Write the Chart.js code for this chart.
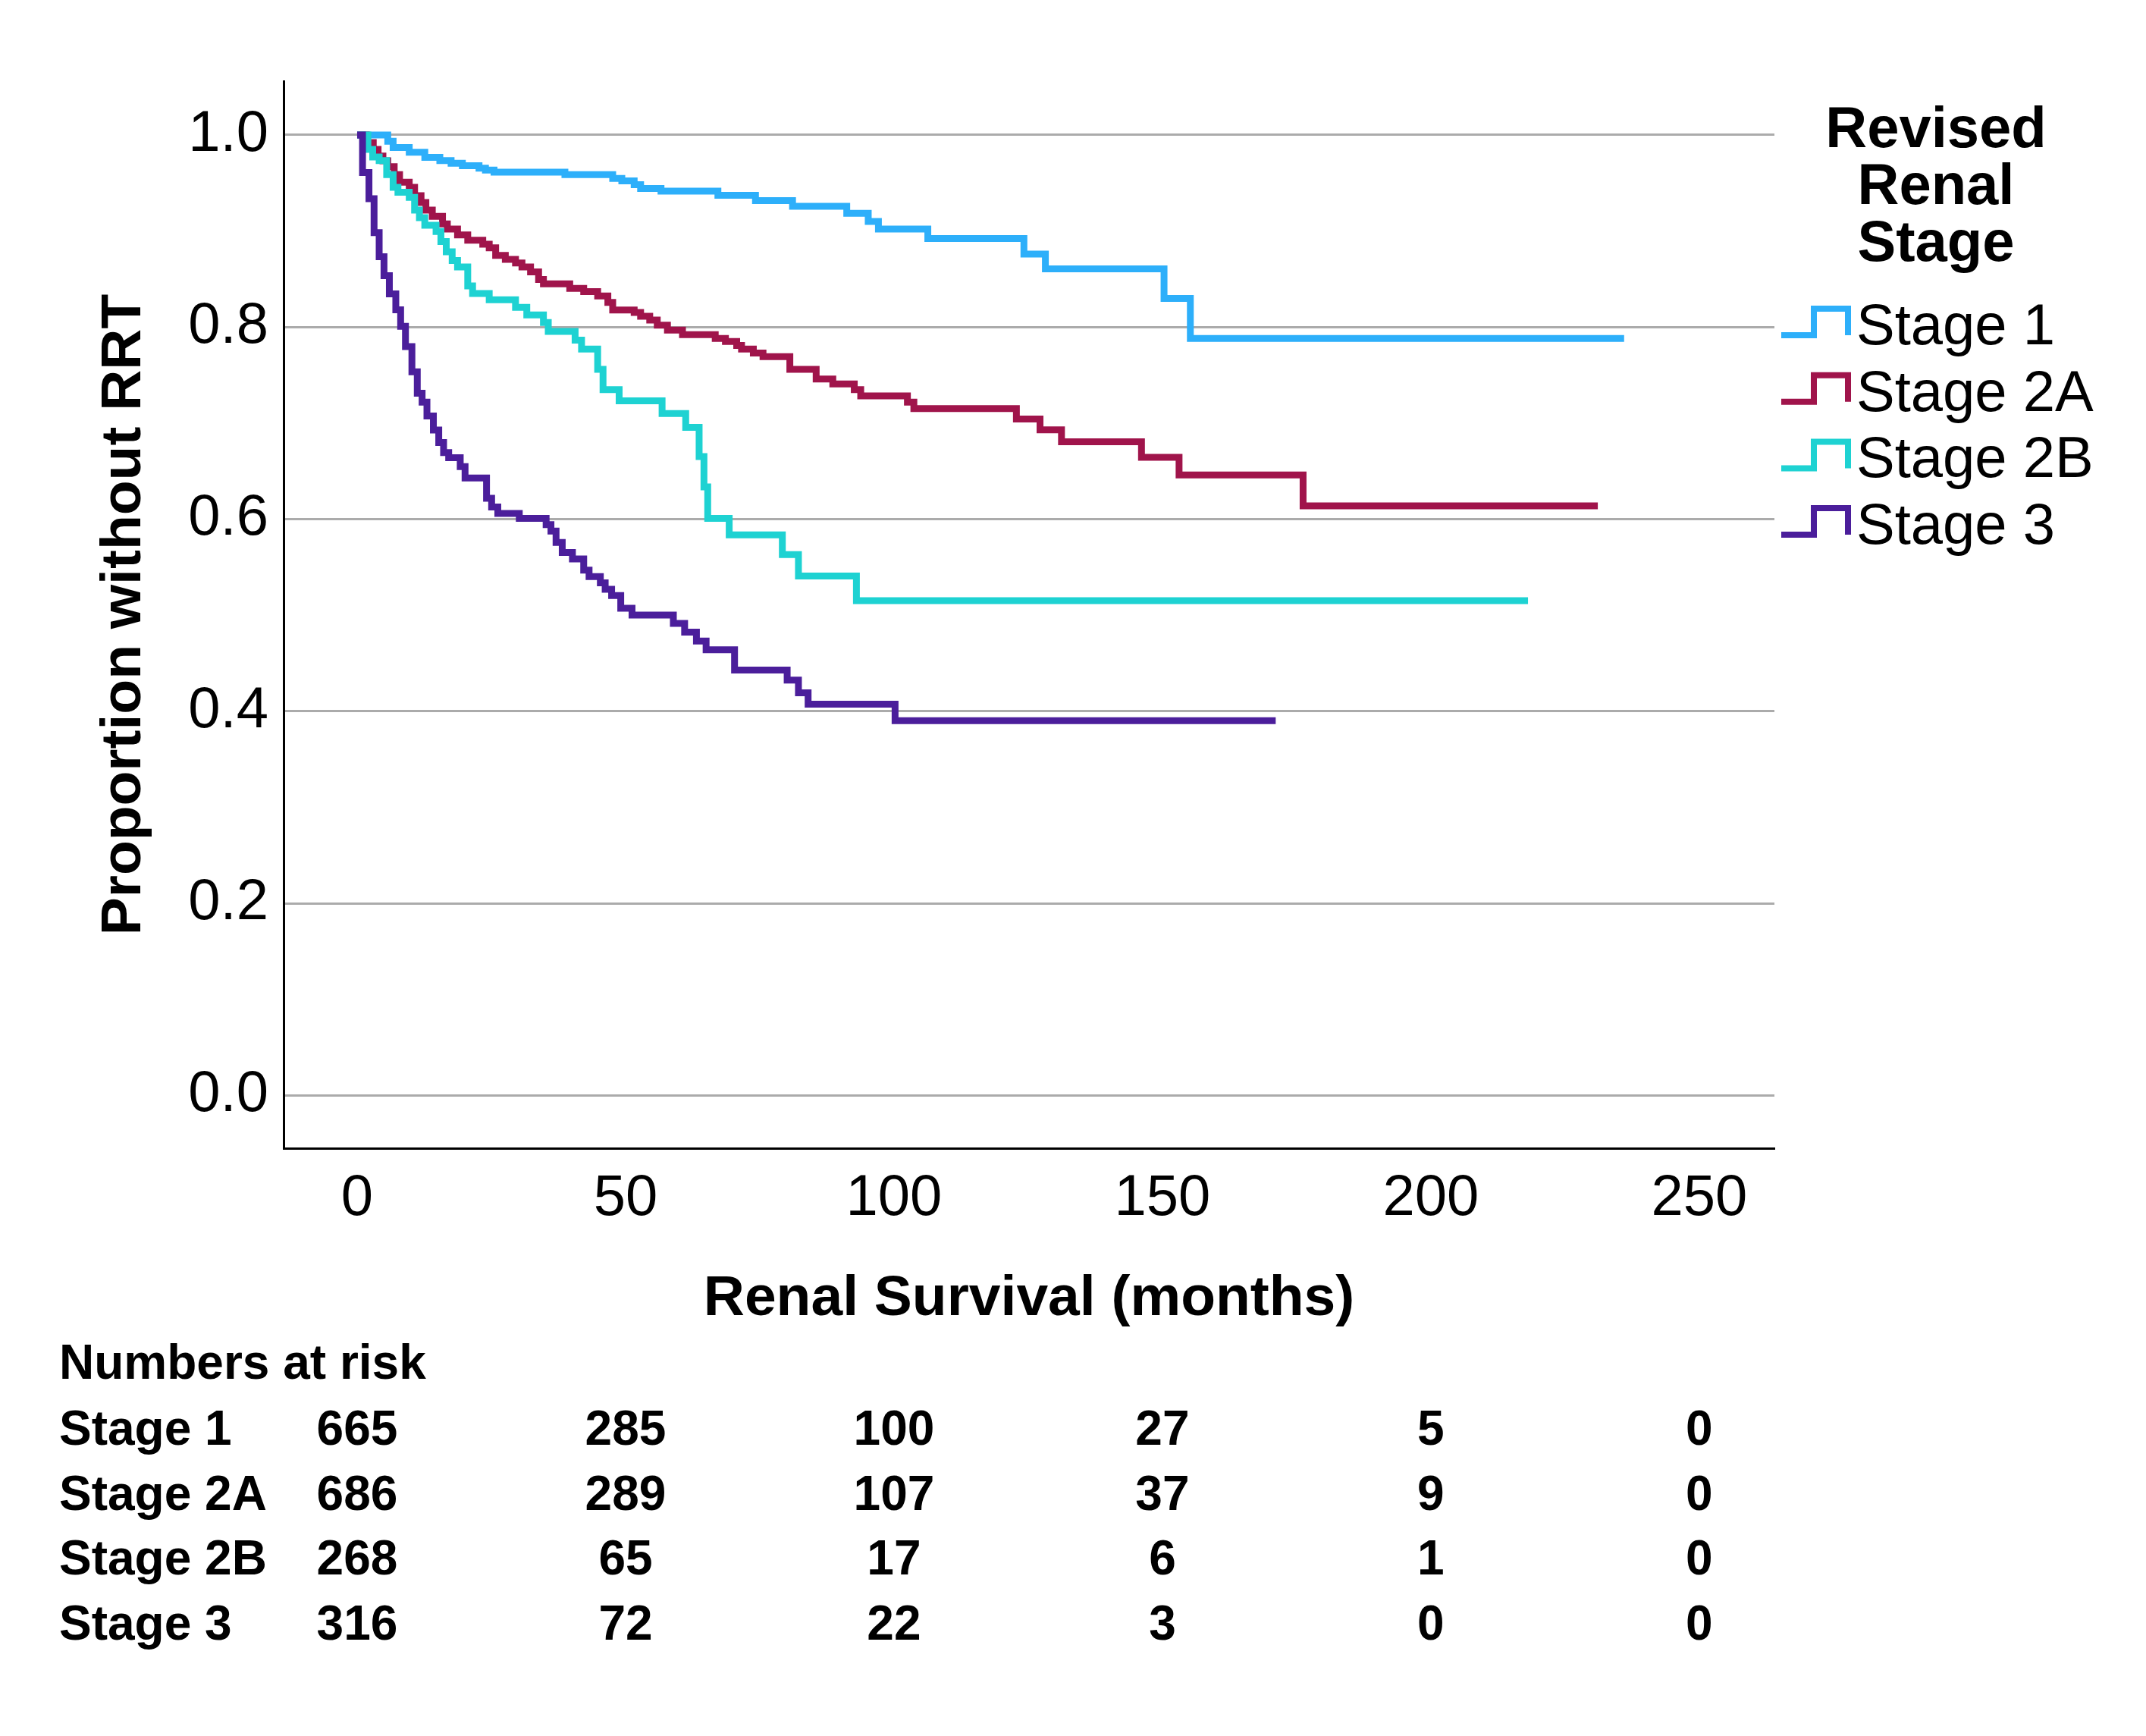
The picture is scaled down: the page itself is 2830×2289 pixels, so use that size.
<!DOCTYPE html>
<html><head><meta charset="utf-8">
<script src="https://cdn.jsdelivr.net/npm/chart.js@4.4.1/dist/chart.umd.min.js"></script>
<style>html,body{margin:0;padding:0;background:#fff;} canvas{display:block;}</style>
</head><body>
<canvas id="c" width="2830" height="2289" style="width:2830px;height:2289px"></canvas>
<script>
// ---- data ----
const seriesNames = ['Stage 1', 'Stage 2A', 'Stage 2B', 'Stage 3'];

const stage1Times = [0, 5.7, 6.7, 9.7, 12.6, 15.4, 17.5, 19.6, 22.7, 23.9, 25.5, 38.7, 47.6, 49.3, 51.6, 52.8, 56.6, 67.2, 74.2, 81.1, 91.2, 95.2, 97.1, 106.3, 124.2, 128.2, 150.3, 155.2, 236.0];
const stage1Surv  = [1.0, 0.9935, 0.987, 0.982, 0.9766, 0.9732, 0.9705, 0.968, 0.9653, 0.9635, 0.9613, 0.9587, 0.9548, 0.9521, 0.9482, 0.9442, 0.9416, 0.9371, 0.9316, 0.9258, 0.9184, 0.910, 0.902, 0.8921, 0.876, 0.8605, 0.8298, 0.7882, 0.7882];

const stage2ATimes = [0, 1.7, 3.0, 3.9, 4.8, 5.7, 6.9, 7.9, 9.7, 10.7, 11.9, 12.8, 14.0, 15.9, 16.8, 18.7, 20.6, 23.4, 24.6, 25.8, 27.6, 29.5, 30.7, 32.3, 33.8, 34.7, 39.6, 42.2, 44.8, 46.7, 47.6, 51.6, 52.8, 54.5, 55.9, 57.8, 60.6, 66.7, 68.6, 70.7, 71.6, 73.8, 75.6, 80.6, 85.5, 88.6, 92.6, 93.8, 102.5, 103.7, 122.8, 127.2, 131.2, 146.1, 153.1, 176.2, 231.1];
const stage2ASurv  = [1.0, 0.992, 0.985, 0.978, 0.973, 0.967, 0.9587, 0.9508, 0.9455, 0.9368, 0.9297, 0.9218, 0.9153, 0.9074, 0.9021, 0.896, 0.8903, 0.8863, 0.8824, 0.8745, 0.8705, 0.8666, 0.8626, 0.8574, 0.8495, 0.845, 0.8402, 0.8368, 0.8323, 0.8257, 0.8178, 0.8152, 0.8113, 0.8073, 0.802, 0.7968, 0.792, 0.7881, 0.7849, 0.7809, 0.777, 0.773, 0.7691, 0.7559, 0.7459, 0.7407, 0.7349, 0.7283, 0.7217, 0.7151, 0.7043, 0.6929, 0.6805, 0.6644, 0.646, 0.6139, 0.6139];

const stage2BTimes = [0, 2.0, 2.9, 4.1, 5.5, 6.7, 7.6, 9.7, 10.7, 11.6, 12.6, 14.7, 15.6, 16.6, 17.7, 18.7, 20.6, 21.5, 24.6, 29.5, 31.6, 34.7, 35.6, 40.6, 41.8, 44.8, 45.8, 48.8, 56.8, 61.2, 63.7, 64.6, 65.3, 69.3, 79.2, 82.2, 93.0, 218.1];
const stage2BSurv  = [1.0, 0.985, 0.977, 0.9732, 0.9587, 0.9455, 0.9403, 0.935, 0.9218, 0.9139, 0.906, 0.8994, 0.8889, 0.8784, 0.8692, 0.8626, 0.8429, 0.835, 0.8284, 0.8205, 0.8126, 0.8047, 0.7955, 0.7863, 0.777, 0.756, 0.7349, 0.7231, 0.7099, 0.6955, 0.6652, 0.6336, 0.6008, 0.5837, 0.5631, 0.5408, 0.5152, 0.5152];

const stage3Times = [0, 1.0, 2.2, 3.15, 4.1, 5.0, 6.0, 7.2, 8.1, 9.0, 10.2, 11.2, 12.1, 13.0, 14.2, 15.2, 16.1, 17.05, 19.2, 20.1, 24.1, 25.05, 26.2, 30.2, 35.2, 36.1, 37.05, 38.2, 40.1, 42.2, 43.2, 45.3, 46.2, 47.4, 49.1, 51.2, 58.9, 61.0, 63.2, 65.0, 70.3, 80.1, 82.2, 84.0, 100.2, 171.1];
const stage3Surv  = [1.0, 0.9609, 0.9337, 0.8982, 0.8732, 0.8535, 0.8345, 0.8179, 0.8008, 0.7797, 0.7534, 0.731, 0.7218, 0.7073, 0.6928, 0.6797, 0.6692, 0.664, 0.6547, 0.6429, 0.6218, 0.6126, 0.606, 0.6008, 0.5942, 0.5876, 0.5757, 0.5652, 0.5586, 0.5468, 0.5402, 0.5336, 0.527, 0.5205, 0.5073, 0.5002, 0.4915, 0.4823, 0.4731, 0.4639, 0.4429, 0.4323, 0.4192, 0.4073, 0.3902, 0.3902];

const xTickValues = [0, 50, 100, 150, 200, 250];
const riskStage1  = [665, 285, 100, 27, 5, 0];
const riskStage2A = [686, 289, 107, 37, 9, 0];
const riskStage2B = [268, 65, 17, 6, 1, 0];
const riskStage3  = [316, 72, 22, 3, 0, 0];

const xTitle = 'Renal Survival (months)';
const yTitle = 'Proportion without RRT';
const legendTitleLines = ['Revised', 'Renal', 'Stage'];
const riskHeader = 'Numbers at risk';

// ---- styles ----
const colors = ['#2DAFFA', '#A0144B', '#1ED2D2', '#4B1E9B'];
const FONT = '"Liberation Sans", Arial, Helvetica, sans-serif';

function pts(ts, ss) { return ts.map((t, i) => ({ x: t, y: ss[i] })); }
const seriesData = [pts(stage1Times, stage1Surv), pts(stage2ATimes, stage2ASurv), pts(stage2BTimes, stage2BSurv), pts(stage3Times, stage3Surv)];
const riskRows = [riskStage1, riskStage2A, riskStage2B, riskStage3];

const annot = {
  id: 'annot',
  afterDraw(chart) {
    const ctx = chart.ctx, xs = chart.scales.x, area = chart.chartArea;
    ctx.save();
    ctx.fillStyle = '#000';
    // y title
    ctx.save();
    ctx.font = 'bold 75px ' + FONT;
    ctx.translate(185, (area.top + area.bottom) / 2);
    ctx.rotate(-Math.PI / 2);
    ctx.textAlign = 'center';
    ctx.textBaseline = 'alphabetic';
    ctx.fillText(yTitle, 0, 0);
    ctx.restore();
    // x title
    ctx.font = 'bold 75px ' + FONT;
    ctx.textAlign = 'center';
    ctx.textBaseline = 'alphabetic';
    ctx.fillText(xTitle, (area.left + area.right) / 2, 1734);
    // legend title
    ctx.font = 'bold 76px ' + FONT;
    legendTitleLines.forEach((l, i) => ctx.fillText(l, 2553, 194 + 75 * i));
    // legend items
    ctx.textAlign = 'left';
    ctx.font = '76px ' + FONT;
    seriesNames.forEach((n, i) => {
      const b = 454 + 87.7 * i;
      ctx.strokeStyle = colors[i];
      ctx.lineWidth = 8;
      ctx.lineJoin = 'miter';
      ctx.lineCap = 'butt';
      ctx.beginPath();
      ctx.moveTo(2349, b - 12);
      ctx.lineTo(2392, b - 12);
      ctx.lineTo(2392, b - 47);
      ctx.lineTo(2437, b - 47);
      ctx.lineTo(2437, b - 12);
      ctx.stroke();
      ctx.fillStyle = '#000';
      ctx.fillText(n, 2448, b);
    });
    // numbers at risk table
    ctx.font = 'bold 64px ' + FONT;
    ctx.textAlign = 'left';
    ctx.fillText(riskHeader, 78, 1818);
    riskRows.forEach((row, i) => {
      const b = 1905 + 85.7 * i;
      ctx.textAlign = 'left';
      ctx.fillText(seriesNames[i], 78, b);
      ctx.textAlign = 'center';
      row.forEach((v, j) => ctx.fillText(String(v), xs.getPixelForValue(xTickValues[j]), b));
    });
    ctx.restore();
  }
};

new Chart(document.getElementById('c'), {
  type: 'line',
  data: {
    datasets: seriesData.map((d, i) => ({
      label: seriesNames[i],
      data: d,
      borderColor: colors[i],
      backgroundColor: colors[i],
      borderWidth: 9,
      pointRadius: 0,
      stepped: 'before',
      fill: false,
      tension: 0,
      borderJoinStyle: 'miter',
      borderCapStyle: 'butt',
      order: 3 - i
    }))
  },
  options: {
    responsive: false,
    animation: false,
    devicePixelRatio: 1,
    layout: { padding: { left: 0, top: 107, right: 490, bottom: 0 } },
    plugins: { legend: { display: false }, tooltip: { enabled: false }, title: { display: false } },
    scales: {
      x: {
        type: 'linear', min: -13.7, max: 264,
        afterFit(s) { s.height = 775; },
        grid: { display: false, drawTicks: false },
        border: { display: true, color: '#000', width: 3 },
        ticks: { stepSize: 50, includeBounds: false, autoSkip: false, maxRotation: 0, color: '#000', font: { family: FONT, size: 76 }, padding: 21 }
      },
      y: {
        type: 'linear', min: -0.055, max: 1.056,
        afterFit(s) { s.width = 374; },
        grid: { color: '#ababab', lineWidth: 3, drawTicks: false },
        border: { display: true, color: '#000', width: 3 },
        ticks: { stepSize: 0.2, includeBounds: false, color: '#000', font: { family: FONT, size: 76 }, padding: 20, callback: v => Number(v).toFixed(1) }
      }
    }
  },
  plugins: [annot]
});
</script>
</body></html>
